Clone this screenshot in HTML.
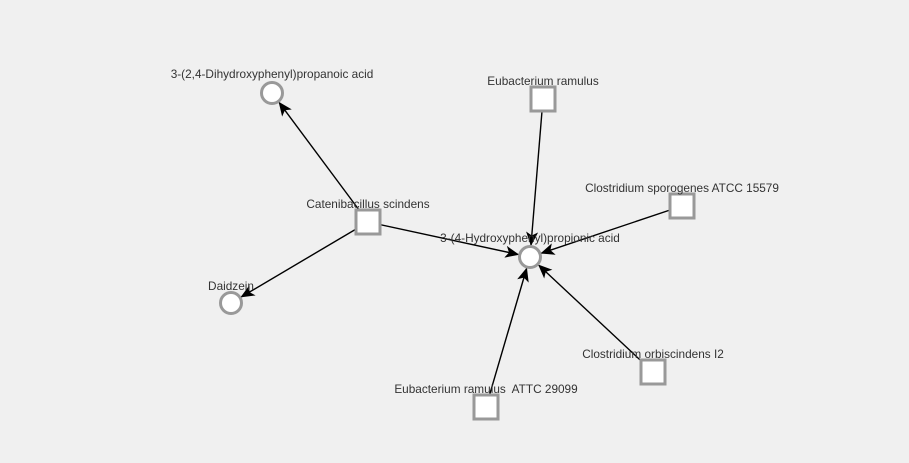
<!DOCTYPE html>
<html><head><meta charset="utf-8"><style>
html,body{margin:0;padding:0;background:#f0f0f0;}
svg{display:block}
text{font-family:"Liberation Sans",Arial,sans-serif;font-size:11.8px;fill:#333;text-anchor:middle}
</style></head><body>
<svg width="909" height="463" viewBox="0 0 909 463">
<defs><marker id="a" markerWidth="14" markerHeight="12" refX="13" refY="6" orient="auto" markerUnits="userSpaceOnUse"><path d="M0,0 L14,6 L0,12 L3.5,6 Z" fill="#000"/></marker></defs>
<g stroke="#000" stroke-width="1.4" marker-end="url(#a)">
<line x1="368" y1="222" x2="279.2" y2="102.6"/>
<line x1="368" y1="222" x2="241.3" y2="296.9"/>
<line x1="368" y1="222" x2="518.3" y2="254.5"/>
<line x1="543" y1="99" x2="531" y2="245"/>
<line x1="682" y1="206" x2="541.4" y2="253.2"/>
<line x1="653" y1="372" x2="538.8" y2="265.2"/>
<line x1="486" y1="407" x2="526.6" y2="268.5"/>
</g>
<g fill="#fff" stroke="#999" stroke-width="3">
<circle cx="272" cy="93" r="10.5"/>
<circle cx="231" cy="303" r="10.5"/>
<circle cx="530" cy="257" r="10.5"/>
<rect x="531" y="87" width="24" height="24"/>
<rect x="670" y="194" width="24" height="24"/>
<rect x="356" y="210" width="24" height="24"/>
<rect x="641" y="360" width="24" height="24"/>
<rect x="474" y="395" width="24" height="24"/>
</g>
<text x="272" y="78">3-(2,4-Dihydroxyphenyl)propanoic acid</text>
<text x="543" y="85">Eubacterium ramulus</text>
<text x="682" y="192">Clostridium sporogenes ATCC 15579</text>
<text x="368" y="208">Catenibacillus scindens</text>
<text x="530" y="242">3-(4-Hydroxyphenyl)propionic acid</text>
<text x="231" y="290">Daidzein</text>
<text x="653" y="358">Clostridium orbiscindens I2</text>
<text x="486" y="393">Eubacterium ramulus&#160; ATTC 29099</text>
</svg>
</body></html>
